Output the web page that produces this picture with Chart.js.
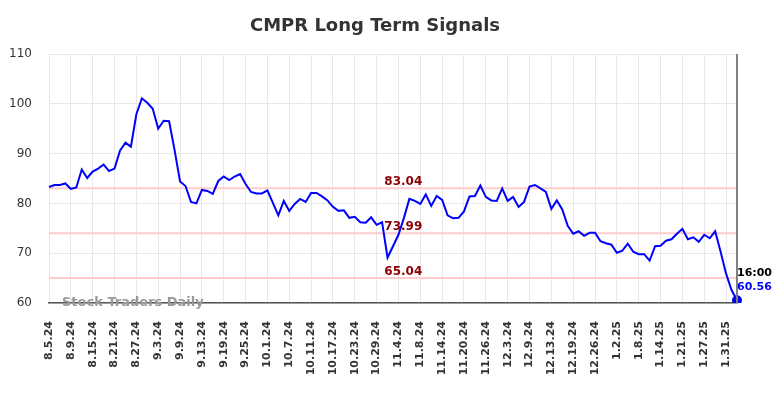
<!DOCTYPE html>
<html>
<head>
<meta charset="utf-8">
<title>CMPR Long Term Signals</title>
<script src="https://cdn.jsdelivr.net/npm/chart.js@4.4.1/dist/chart.umd.min.js"></script>
<style>
  html, body { margin: 0; padding: 0; background: #fff; }
  canvas { display: block; }
</style>
</head>
<body>
<canvas id="signalChart" width="784" height="398"></canvas>
<script>
// CMPR long term signals - daily close with support/resistance levels

const dates = [
    "8.5.24","8.6.24","8.7.24","8.8.24","8.9.24","8.12.24","8.13.24","8.14.24","8.15.24","8.16.24",
    "8.19.24","8.20.24","8.21.24","8.22.24","8.23.24","8.26.24","8.27.24","8.28.24","8.29.24","8.30.24",
    "9.3.24","9.4.24","9.5.24","9.6.24","9.9.24","9.10.24","9.11.24","9.12.24","9.13.24","9.16.24",
    "9.17.24","9.18.24","9.19.24","9.20.24","9.23.24","9.24.24","9.25.24","9.26.24","9.27.24","9.30.24",
    "10.1.24","10.2.24","10.3.24","10.4.24","10.7.24","10.8.24","10.9.24","10.10.24","10.11.24","10.14.24",
    "10.15.24","10.16.24","10.17.24","10.18.24","10.21.24","10.22.24","10.23.24","10.24.24","10.25.24","10.28.24",
    "10.29.24","10.30.24","10.31.24","11.1.24","11.4.24","11.5.24","11.6.24","11.7.24","11.8.24","11.11.24",
    "11.12.24","11.13.24","11.14.24","11.15.24","11.18.24","11.19.24","11.20.24","11.21.24","11.22.24","11.25.24",
    "11.26.24","11.27.24","11.29.24","12.2.24","12.3.24","12.4.24","12.5.24","12.6.24","12.9.24","12.10.24",
    "12.11.24","12.12.24","12.13.24","12.16.24","12.17.24","12.18.24","12.19.24","12.20.24","12.23.24","12.24.24",
    "12.26.24","12.27.24","12.30.24","12.31.24","1.2.25","1.3.25","1.6.25","1.7.25","1.8.25","1.9.25",
    "1.10.25","1.13.25","1.14.25","1.15.25","1.16.25","1.17.25","1.21.25","1.22.25","1.23.25","1.24.25",
    "1.27.25","1.28.25","1.29.25","1.30.25","1.31.25","2.3.25","2.4.25"
];

const prices = [
    83.3, 83.7, 83.7, 84.0, 82.9, 83.2, 86.8, 85.1, 86.4, 87.0,
    87.8, 86.5, 87.0, 90.6, 92.2, 91.4, 97.9, 101.1, 100.2, 99.0,
    95.0, 96.6, 96.5, 90.7, 84.4, 83.5, 80.3, 80.0, 82.7, 82.5,
    81.9, 84.5, 85.4, 84.7, 85.4, 85.9, 83.9, 82.3, 82.0, 82.0,
    82.6, 80.1, 77.6, 80.5, 78.5, 79.9, 80.9, 80.3, 82.1, 82.1,
    81.4, 80.6, 79.3, 78.5, 78.6, 77.1, 77.3, 76.2, 76.1, 77.2,
    75.7, 76.2, 69.1, 71.4, 73.7, 77.1, 80.9, 80.5, 79.9, 81.8,
    79.5, 81.5, 80.7, 77.6, 77.0, 77.1, 78.4, 81.4, 81.5, 83.6,
    81.3, 80.6, 80.5, 83.0, 80.5, 81.3, 79.3, 80.3, 83.4, 83.7,
    83.0, 82.3, 78.9, 80.6, 78.8, 75.5, 73.9, 74.4, 73.5, 74.1,
    74.1, 72.4, 72.0, 71.7, 70.1, 70.5, 71.9, 70.3, 69.8, 69.8,
    68.5, 71.4, 71.5, 72.5, 72.8, 73.9, 74.9, 72.8, 73.2, 72.3,
    73.7, 73.0, 74.4, 70.3, 65.9, 62.6, 60.56
];

const signalLevels = [83.04, 73.99, 65.04];
const yTicks = [60, 70, 80, 90, 100, 110];
const tickEvery = 4;
const lastTime = "16:00";

const FONT = "'DejaVu Sans', sans-serif";
const lastIdx = prices.length - 1;

// extra drawing: title, level lines, watermark, end marker
const overlay = {
    id: "overlay",
    beforeDatasetsDraw(chart) {
        const { ctx, chartArea: a, scales: { y } } = chart;
        ctx.save();
        ctx.strokeStyle = "#ffcccc";
        ctx.lineWidth = 2;
        signalLevels.forEach(v => {
            const py = y.getPixelForValue(v);
            ctx.beginPath();
            ctx.moveTo(a.left, py);
            ctx.lineTo(a.right, py);
            ctx.stroke();
        });
        ctx.restore();
    },
    afterDatasetsDraw(chart) {
        const { ctx, chartArea: a, scales: { x, y } } = chart;
        ctx.save();

        // title
        ctx.fillStyle = "#333";
        ctx.font = "bold 18px " + FONT;
        ctx.textAlign = "center";
        ctx.textBaseline = "middle";
        ctx.fillText("CMPR Long Term Signals", 375, 26);

        // level labels
        ctx.fillStyle = "#8b0000";
        ctx.font = "bold 12px " + FONT;
        ctx.textBaseline = "alphabetic";
        const lx = a.left + (a.right - a.left) * 0.515;
        signalLevels.forEach(v => {
            ctx.fillText(v.toFixed(2), lx, y.getPixelForValue(v) - 3);
        });

        // vertical marker at the last bar
        const ex = x.getPixelForValue(lastIdx);
        ctx.strokeStyle = "#808080";
        ctx.lineWidth = 2;
        ctx.beginPath();
        ctx.moveTo(ex, a.top);
        ctx.lineTo(ex, a.bottom);
        ctx.stroke();

        // watermark
        ctx.fillStyle = "#999";
        ctx.font = "bold 13px " + FONT;
        ctx.textAlign = "left";
        ctx.textBaseline = "middle";
        ctx.fillText("Stock Traders Daily", 62, a.bottom);

        // last value label
        const ey = y.getPixelForValue(prices[lastIdx]);
        ctx.font = "bold 11px " + FONT;
        ctx.fillStyle = "#000";
        ctx.fillText(lastTime, ex, ey - 27);
        ctx.fillStyle = "#0000ff";
        ctx.fillText(prices[lastIdx].toFixed(2), ex, ey - 13);

        ctx.restore();
    }
};

new Chart(document.getElementById("signalChart"), {
    type: "line",
    data: {
        labels: dates,
        datasets: [{
            data: prices,
            borderColor: "#0000ff",
            backgroundColor: "#0000ff",
            borderWidth: 2,
            tension: 0,
            pointRadius: c => c.dataIndex === lastIdx ? 4 : 0,
            pointHoverRadius: 0,
            fill: false
        }]
    },
    options: {
        responsive: false,
        animation: false,
        layout: { padding: { top: 54, right: 47, left: 0, bottom: 0 } },
        plugins: {
            legend: { display: false },
            tooltip: { enabled: false }
        },
        scales: {
            x: {
                type: "category",
                offset: false,
                afterBuildTicks: s => {
                    s.ticks = s.ticks.filter(t => t.value % tickEvery === 0);
                },
                afterFit: s => { s.height = 95; },
                grid: { color: "#e8e8e8", lineWidth: 1, drawTicks: false },
                border: { display: true, color: "#555", width: 1.5 },
                ticks: {
                    autoSkip: false,
                    minRotation: 90,
                    maxRotation: 90,
                    padding: 18,
                    color: "#333",
                    font: { family: FONT, size: 11, weight: "bold" },
                    callback: function (v) { return this.getLabelForValue(v); }
                }
            },
            y: {
                min: 60,
                max: 110,
                afterBuildTicks: s => {
                    s.ticks = yTicks.map(v => ({ value: v }));
                },
                afterFit: s => { s.width = 49; },
                grid: { color: "#e8e8e8", lineWidth: 1, drawTicks: false },
                border: { display: false },
                ticks: {
                    padding: 17,
                    color: "#333",
                    font: { family: FONT, size: 12 }
                }
            }
        }
    },
    plugins: [overlay]
});
</script>
</body>
</html>
